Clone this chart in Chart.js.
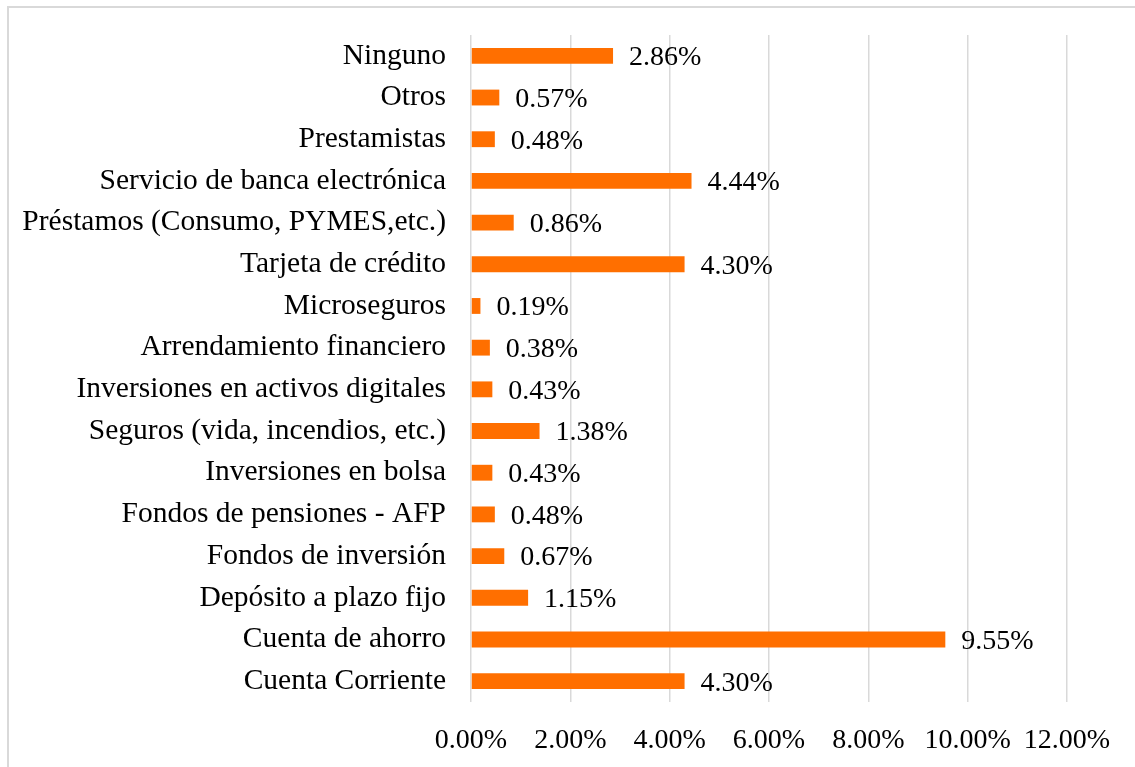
<!DOCTYPE html>
<html>
<head>
<meta charset="utf-8">
<script src="https://cdn.jsdelivr.net/npm/chart.js@4"></script>
<style>
  html, body { margin: 0; padding: 0; background: #fff; }
  #frame { position: absolute; left: 7px; top: 6px; width: 1140px; height: 780px; border: 2px solid #d9d9d9; box-sizing: border-box; }
  #wrap { position: absolute; left: 0; top: 0; width: 1135px; height: 767px; }
</style>
</head>
<body>
<div id="frame"></div>
<div id="wrap"><canvas id="c" width="1135" height="767"></canvas></div>
<script>
const categories = [
  "Ninguno",
  "Otros",
  "Prestamistas",
  "Servicio de banca electrónica",
  "Préstamos (Consumo, PYMES,etc.)",
  "Tarjeta de crédito",
  "Microseguros",
  "Arrendamiento financiero",
  "Inversiones en activos digitales",
  "Seguros (vida, incendios, etc.)",
  "Inversiones en bolsa",
  "Fondos de pensiones - AFP",
  "Fondos de inversión",
  "Depósito a plazo fijo",
  "Cuenta de ahorro",
  "Cuenta Corriente"
];
const values = [2.86, 0.57, 0.48, 4.44, 0.86, 4.30, 0.19, 0.38, 0.43, 1.38, 0.43, 0.48, 0.67, 1.15, 9.55, 4.30];
const axisMin = 0, axisMax = 12, axisStep = 2;

const FONT = "'Liberation Serif', 'Times New Roman', serif";
const FSIZE = 28;
const CAT_FSIZE = 29.5;

const valueLabels = {
  id: 'valueLabels',
  afterDatasetsDraw(chart) {
    const ctx = chart.ctx;
    const xs = chart.scales.x, ys = chart.scales.y;
    ctx.save();
    ctx.font = FSIZE + "px " + FONT;
    ctx.fillStyle = "#000";
    ctx.textAlign = "left";
    ctx.textBaseline = "middle";
    values.forEach((v, i) => {
      const x = xs.getPixelForValue(v) + 16;
      const y = ys.getPixelForValue(i) + 2;
      ctx.fillText(v.toFixed(2) + "%", x, y);
    });
    ctx.restore();
  }
};

new Chart(document.getElementById('c'), {
  type: 'bar',
  data: {
    labels: categories,
    datasets: [{
      data: values,
      backgroundColor: '#ff6f00',
      borderWidth: 0,
      categoryPercentage: 1,
      barPercentage: 0.38
    }]
  },
  options: {
    indexAxis: 'y',
    responsive: false,
    animation: false,
    layout: { padding: { top: 35, right: 68, left: 0, bottom: 0 } },
    plugins: { legend: { display: false }, tooltip: { enabled: false } },
    scales: {
      x: {
        min: axisMin, max: axisMax,
        ticks: {
          stepSize: axisStep,
          color: '#000',
          font: { family: FONT, size: FSIZE },
          padding: 22,
          maxRotation: 0,
          callback: (v) => Number(v).toFixed(2) + '%'
        },
        grid: { color: '#d9d9d9', lineWidth: 1.5, drawTicks: false },
        border: { display: false },
        afterFit: (s) => { s.height = 65; s.paddingLeft = 0; s.paddingRight = 0; }
      },
      y: {
        ticks: {
          color: '#000',
          font: { family: FONT, size: CAT_FSIZE },
          padding: 25,
          autoSkip: false
        },
        grid: { display: false, drawTicks: false },
        border: { display: false },
        afterFit: (s) => { s.width = 471; s.paddingTop = 0; s.paddingBottom = 0; }
      }
    }
  },
  plugins: [valueLabels]
});
</script>
</body>
</html>
